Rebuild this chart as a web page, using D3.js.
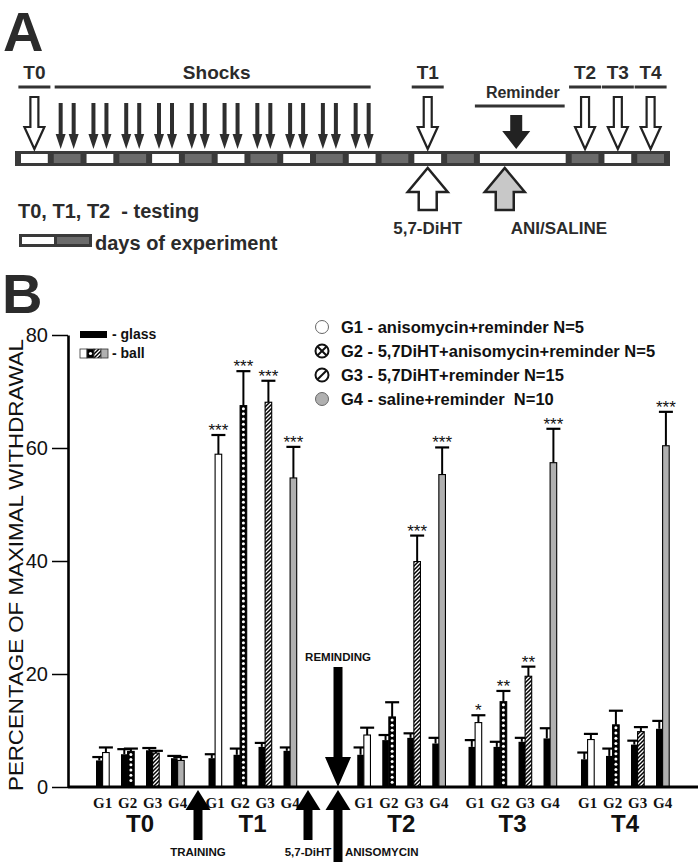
<!DOCTYPE html>
<html>
<head>
<meta charset="utf-8">
<script src="https://cdn.jsdelivr.net/npm/d3@7"></script>
<style>
  body { margin: 0; background: #fff; }
  svg { display: block; font-family: "Liberation Sans", Arial, sans-serif; }
  text { white-space: pre; }
</style>
</head>
<body>
<svg id="fig" width="700" height="862"></svg>
<script>
// ---- DATA ----
const tests = ["T0", "T1", "T2", "T3", "T4"];
const groups = ["G1", "G2", "G3", "G4"];

// glass (black bars), mean and SEM, one row per test, one column per group
const glassMean = [[4.7, 5.8, 6.5, 5.1], [5.1, 5.7, 7.1, 6.4], [5.7, 8.3, 8.7, 7.7], [7.1, 7.1, 8.0, 8.6], [4.9, 5.5, 7.5, 10.3]];
const glassSem  = [[0.6, 0.9, 0.4, 0.4], [0.7, 1.1, 0.7, 0.6], [1.3, 0.9, 0.8, 1.0], [1.2, 0.9, 0.7, 1.8], [1.2, 1.3, 0.7, 1.4]];
// ball (patterned bars)
const ballMean  = [[6.1, 6.3, 6.0, 4.7], [58.9, 67.5, 68.1, 54.7], [9.2, 12.4, 39.9, 55.3], [11.4, 15.1, 19.6, 57.4], [8.4, 11.0, 9.8, 60.4]];
const ballSem   = [[0.9, 0.5, 0.4, 0.6], [3.4, 6.1, 3.8, 5.5], [1.3, 2.6, 4.6, 4.8], [1.3, 1.9, 1.7, 6.0], [1.0, 2.5, 0.8, 6.0]];
const stars     = [["", "", "", ""], ["***", "***", "***", "***"], ["", "", "***", "***"], ["*", "**", "**", "***"], ["", "", "", "***"]];

const yTicks = [0, 20, 40, 60, 80];
const legendGroups = ["G1 - anisomycin+reminder N=5", "G2 - 5,7DiHT+anisomycin+reminder N=5",
                      "G3 - 5,7DiHT+reminder N=15", "G4 - saline+reminder  N=10"];

// events under the x axis, in bar-slot units
const events = [{ label: "TRAINING", at: 4.08 }, { label: "5,7-DiHT", at: 8.48 }, { label: "ANISOMYCIN", at: 9.68 }];

// panel A timeline: day cells (w = white, d = dark) and their length in days
const dayShade = ["w","d","w","d","w","d","w","d","w","d","w","d","w","d","w","d","w","d"];
const dayLen   = [1,1,1,1,1,1,1,1,1,1,1,1,1,1,2.8,1,1,1];
const shockDays = [1,2,3,4,5,6,7,8,9,10];
const testDays = [{ label: "T0", at: 0.5 }, { label: "T1", at: 12.5 }, { label: "T2", at: 17.3 }, { label: "T3", at: 18.3 }, { label: "T4", at: 19.3 }];

// ---- SETUP ----
const svg = d3.select("#fig");
const ink = "#2b2b2b";

function arrowPath(cx, y0, y1, sw, hw, hl) {
  const dir = Math.sign(y1 - y0), hb = y1 - dir * hl;
  return `M${cx - sw / 2},${y0}L${cx - sw / 2},${hb}L${cx - hw / 2},${hb}L${cx},${y1}` +
         `L${cx + hw / 2},${hb}L${cx + sw / 2},${hb}L${cx + sw / 2},${y0}Z`;
}

// ================= PANEL A =================
const A = svg.append("g").attr("fill", ink);
A.append("text").attr("x", 3).attr("y", 51).attr("font-size", 56).attr("font-weight", "bold").text("A");

const dayStart = d3.cumsum([0].concat(dayLen.slice(0, -1)));
const totalDays = d3.sum(dayLen);
const tx = d3.scaleLinear().domain([0, totalDays]).range([18, 667]);

// timeline bar
A.append("rect").attr("x", tx(0) - 3).attr("y", 151).attr("width", tx(totalDays) - tx(0) + 6).attr("height", 15).attr("fill", "#3a3a3a");
A.selectAll(".day").data(dayShade).enter().append("rect")
  .attr("x", (d, i) => tx(dayStart[i]) + 3)
  .attr("y", 154)
  .attr("width", (d, i) => tx(dayStart[i] + dayLen[i]) - tx(dayStart[i]) - 6)
  .attr("height", 9)
  .attr("fill", d => d === "w" ? "#fff" : "#6b6b6b");

// shocks
const shockX = [];
shockDays.forEach(d => { shockX.push(tx(d + 0.5) - 6.5, tx(d + 0.5) + 6.5); });
A.selectAll(".shock").data(shockX).enter().append("path")
  .attr("d", x => arrowPath(x, 103, 149, 4, 10, 15)).attr("fill", "#2e2e2e");
A.append("line").attr("x1", d3.min(shockX) - 6).attr("x2", d3.max(shockX) + 2).attr("y1", 87).attr("y2", 87)
  .attr("stroke", "#333").attr("stroke-width", 3);
A.append("text").attr("x", (d3.min(shockX) + d3.max(shockX)) / 2 + 2).attr("y", 79).attr("text-anchor", "middle")
  .attr("font-size", 19).attr("font-weight", "bold").text("Shocks");

// tests
testDays.forEach(t => {
  const cx = tx(t.at);
  A.append("path").attr("d", arrowPath(cx, 97, 149, 8, 20, 22)).attr("fill", "#fff").attr("stroke", "#222").attr("stroke-width", 2.2);
  A.append("line").attr("x1", cx - 16).attr("x2", cx + 16).attr("y1", 87).attr("y2", 87).attr("stroke", "#333").attr("stroke-width", 3);
  A.append("text").attr("x", cx).attr("y", 79).attr("text-anchor", "middle").attr("font-size", 19).attr("font-weight", "bold").text(t.label);
});

// reminder
const remX = tx(15.2);
A.append("path").attr("d", arrowPath(remX, 115, 149, 12, 28, 18)).attr("fill", "#222");
A.append("line").attr("x1", tx(14) - 2).attr("x2", tx(16.8) - 4).attr("y1", 106).attr("y2", 106).attr("stroke", "#333").attr("stroke-width", 3);
A.append("text").attr("x", tx(15.4)).attr("y", 98).attr("text-anchor", "middle").attr("font-size", 16).attr("font-weight", "bold").text("Reminder");

// injections below
A.append("path").attr("d", arrowPath(tx(12.5), 210, 168, 18, 40, 24)).attr("fill", "#fff").attr("stroke", "#222").attr("stroke-width", 2.5);
A.append("path").attr("d", arrowPath(tx(14.85), 210, 168, 18, 40, 24)).attr("fill", "#c8c8c8").attr("stroke", "#222").attr("stroke-width", 2.5);
A.append("text").attr("x", tx(12.5)).attr("y", 234).attr("text-anchor", "middle").attr("font-size", 17).attr("font-weight", "bold").text("5,7-DiHT");
A.append("text").attr("x", tx(16.5)).attr("y", 234).attr("text-anchor", "middle").attr("font-size", 17).attr("font-weight", "bold").text("ANI/SALINE");

// panel A legend
A.append("text").attr("x", 18).attr("y", 218).attr("font-size", 20).attr("font-weight", "bold").text("T0, T1, T2  - testing");
A.append("rect").attr("x", 19).attr("y", 234).attr("width", 73).attr("height", 13).attr("fill", "#3a3a3a");
A.append("rect").attr("x", 22).attr("y", 237).attr("width", 32).attr("height", 7).attr("fill", "#fff");
A.append("rect").attr("x", 57).attr("y", 237).attr("width", 32).attr("height", 7).attr("fill", "#6b6b6b");
A.append("text").attr("x", 95).attr("y", 250).attr("font-size", 20).attr("font-weight", "bold").text("days of experiment");

// ================= PANEL B =================
const defs = svg.append("defs");
const hatch = defs.append("pattern").attr("id", "hatch").attr("patternUnits", "userSpaceOnUse").attr("width", 4).attr("height", 4);
hatch.append("rect").attr("width", 4).attr("height", 4).attr("fill", "#fff");
hatch.append("path").attr("d", "M-1,1L1,-1M0,4L4,0M3,5L5,3").attr("stroke", "#000").attr("stroke-width", 1.5);

const fills = ["#fff", "#000", "url(#hatch)", "#b0b0b0"];

svg.append("text").attr("x", 2).attr("y", 313).attr("font-size", 56).attr("font-weight", "bold").attr("fill", ink).text("B");

const groupOffset = [0, 4.5, 10.45, 14.9, 19.4];
const x = d3.scaleLinear().domain([-1.12, 24.08]).range([68, 698]);
const y = d3.scaleLinear().domain([0, 80]).range([787, 335]);
const bw = 6.6;

const B = svg.append("g");

// y axis
const yAxis = B.append("g").attr("transform", `translate(${x(-1.12)},0)`)
  .call(d3.axisLeft(y).tickValues(yTicks).tickSize(16).tickSizeOuter(0).tickPadding(4));
yAxis.select(".domain").attr("stroke-width", 2.6);
yAxis.selectAll(".tick line").attr("stroke-width", 1.5);
yAxis.selectAll(".tick text").attr("font-size", 20).attr("font-family", "Liberation Sans, Arial, sans-serif").attr("fill", "#111");

B.append("text").attr("transform", `translate(23,${(y(0) + y(80)) / 2 + 4}) rotate(-90)`)
  .attr("text-anchor", "middle").attr("font-size", 21).attr("textLength", 452).attr("lengthAdjust", "spacingAndGlyphs")
  .attr("fill", "#111").text("PERCENTAGE OF MAXIMAL WITHDRAWAL");

// flatten data
const bars = [];
tests.forEach((t, ti) => groups.forEach((g, gi) => {
  bars.push({ t, ti, g, gi, slot: groupOffset[ti] + gi,
              glass: glassMean[ti][gi], gSem: glassSem[ti][gi],
              ball: ballMean[ti][gi], bSem: ballSem[ti][gi], star: stars[ti][gi] });
}));

function errBar(cx, v, sem) {
  B.append("line").attr("x1", cx).attr("x2", cx).attr("y1", y(v)).attr("y2", y(v + sem)).attr("stroke", "#000").attr("stroke-width", 2);
  B.append("line").attr("x1", cx - 7).attr("x2", cx + 7).attr("y1", y(v + sem)).attr("y2", y(v + sem)).attr("stroke", "#000").attr("stroke-width", 2.2);
}

bars.forEach(d => {
  const gx = x(d.slot), bx = x(d.slot) + bw;
  // error bars first, bars drawn over them
  errBar(gx + bw / 2, d.glass, d.gSem);
  errBar(bx + bw / 2, d.ball, d.bSem);
  B.append("rect").attr("x", gx).attr("y", y(d.glass)).attr("width", bw).attr("height", y(0) - y(d.glass)).attr("fill", "#000");
  B.append("rect").attr("x", bx).attr("y", y(d.ball)).attr("width", bw).attr("height", y(0) - y(d.ball))
    .attr("fill", fills[d.gi]).attr("stroke", "#000").attr("stroke-width", 1.1);
  if (d.gi === 1) {
    B.selectAll(null).data(d3.range(y(d.ball) + 3, y(0) - 1.5, 5.2)).enter().append("circle")
      .attr("cx", bx + bw / 2).attr("cy", v => v).attr("r", 1.5).attr("fill", "#fff");
  }
  if (d.star) {
    B.append("text").attr("x", bx + bw / 2).attr("y", y(d.ball + d.bSem) + 1).attr("text-anchor", "middle")
      .attr("font-size", 17).attr("fill", "#111").text(d.star);
  }
  B.append("text").attr("x", x(d.slot) + bw).attr("y", 808).attr("text-anchor", "middle")
    .attr("font-family", "Liberation Serif, Times New Roman, serif").attr("font-weight", "bold").attr("font-size", 15)
    .attr("fill", "#111").text(d.g);
});

// baseline
B.append("line").attr("x1", x(-1.12)).attr("x2", x(24.08)).attr("y1", y(0)).attr("y2", y(0)).attr("stroke", "#000").attr("stroke-width", 3);

// test labels
tests.forEach((t, ti) => {
  B.append("text").attr("x", x(groupOffset[ti] + 1.5) + bw).attr("y", 832).attr("text-anchor", "middle")
    .attr("font-size", 24).attr("font-weight", "bold").attr("fill", "#111").text(t);
});

// event arrows
events.forEach(e => {
  const cx = x(e.at);
  const bottom = e.label === "ANISOMYCIN" ? 862 : 840;
  B.append("path").attr("d", arrowPath(cx, bottom, 790, 9, 25, 20)).attr("fill", "#000");
  if (e.label === "ANISOMYCIN") {
    B.append("text").attr("x", cx + 7).attr("y", 856).attr("font-size", 11.5).attr("font-weight", "bold").attr("fill", "#111").text(e.label);
  } else {
    B.append("text").attr("x", cx).attr("y", 856).attr("text-anchor", "middle").attr("font-size", 11.5).attr("font-weight", "bold").attr("fill", "#111").text(e.label);
  }
});
// reminding (down arrow)
const remB = x(events[2].at);
B.append("path").attr("d", arrowPath(remB, 667, 787, 9, 26, 30)).attr("fill", "#000");
B.append("text").attr("x", remB).attr("y", 661).attr("text-anchor", "middle").attr("font-size", 11.5).attr("font-weight", "bold").attr("fill", "#111").text("REMINDING");

// glass / ball legend
B.append("rect").attr("x", 80).attr("y", 331).attr("width", 27).attr("height", 7).attr("fill", "#000");
B.append("text").attr("x", 112).attr("y", 339).attr("font-size", 14).attr("font-weight", "bold").attr("fill", "#111").text("- glass");
fills.forEach((f, i) => {
  B.append("rect").attr("x", 80 + i * 7).attr("y", 349).attr("width", 7).attr("height", 9).attr("fill", f).attr("stroke", "#333").attr("stroke-width", 0.8);
});
B.append("circle").attr("cx", 90.5).attr("cy", 353.5).attr("r", 1.6).attr("fill", "#fff");
B.append("text").attr("x", 112).attr("y", 358).attr("font-size", 14).attr("font-weight", "bold").attr("fill", "#111").text("- ball");

// group legend
legendGroups.forEach((lbl, i) => {
  const cy = 327 + i * 24, cx = 322, r = 6.5;
  B.append("circle").attr("cx", cx).attr("cy", cy).attr("r", r)
    .attr("fill", i === 3 ? "#b0b0b0" : "#fff").attr("stroke", i === 0 || i === 3 ? "#666" : "#111").attr("stroke-width", i === 0 || i === 3 ? 1 : 2);
  const k = r * 0.7;
  if (i === 1) {
    B.append("path").attr("d", `M${cx - k},${cy - k}L${cx + k},${cy + k}M${cx + k},${cy - k}L${cx - k},${cy + k}`).attr("stroke", "#111").attr("stroke-width", 2);
  }
  if (i === 2) {
    B.append("path").attr("d", `M${cx - k},${cy + k}L${cx + k},${cy - k}`).attr("stroke", "#111").attr("stroke-width", 2);
  }
  B.append("text").attr("x", 341).attr("y", cy + 6).attr("font-size", 16.5).attr("font-weight", "bold").attr("fill", "#111").text(lbl);
});
</script>
</body>
</html>
